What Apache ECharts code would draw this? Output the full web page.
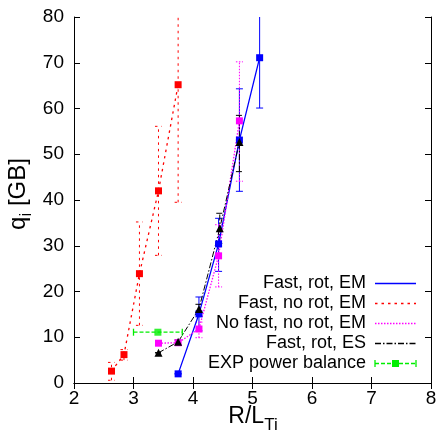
<!DOCTYPE html>
<html><head><meta charset="utf-8">
<script src="https://cdn.jsdelivr.net/npm/echarts@6/dist/echarts.min.js"></script>
<style>html,body{margin:0;padding:0;background:#fff}#c{width:444px;height:432px}</style>
</head><body><div id="c"></div>
<script>
// ---- data ----
const xTicks = [2, 3, 4, 5, 6, 7, 8];
const yTicks = [0, 10, 20, 30, 40, 50, 60, 70, 80];

const fastRotEM_x  = [3.75, 4.10, 4.43, 4.78, 5.12];
const fastRotEM_y  = [2.0, 15.1, 30.4, 53.1, 71.1];
const fastRotEM_lo = [2.0, 11.4, 24.4, 41.9, 60.1];
const fastRotEM_hi = [2.0, 18.8, 36.0, 64.3, 82.1];

const fastNoRotEM_x  = [2.63, 2.84, 3.10, 3.42, 3.75];
const fastNoRotEM_y  = [2.6, 6.2, 23.9, 42.0, 65.2];
const fastNoRotEM_lo = [0.6, 5.0, 12.6, 27.9, 39.5];
const fastNoRotEM_hi = [4.5, 7.3, 35.2, 56.1, 91.0];

const noFastNoRotEM_x  = [3.42, 3.75, 4.10, 4.43, 4.78];
const noFastNoRotEM_y  = [8.7, 8.8, 11.8, 27.8, 57.3];
const noFastNoRotEM_lo = [8.2, 8.2, 9.9, 21.0, 44.1];
const noFastNoRotEM_hi = [9.2, 9.4, 13.3, 34.6, 70.2];

const fastRotES_x  = [3.42, 3.75, 4.10, 4.45, 4.78];
const fastRotES_y  = [6.6, 9.0, 16.2, 33.8, 52.7];
const fastRotES_lo = [6.6, 8.6, 15.2, 30.5, 46.2];
const fastRotES_hi = [6.6, 9.4, 17.2, 37.1, 58.5];

const expPB_x   = [3.41];
const expPB_y   = [11.1];
const expPB_xlo = [3.00];
const expPB_xhi = [3.82];

const legendNames = ['Fast, rot, EM', 'Fast, no rot, EM', 'No fast, no rot, EM', 'Fast, rot, ES', 'EXP power balance'];

// ---- styles ----
const FONT = 'Liberation Sans, Arial, sans-serif';
const styles = [
  {color: '#0000ff', dash: null, symbol: 'rect', size: 7, width: 1.3},
  {color: '#ff0000', dash: [2.5, 4], symbol: 'rect', size: 7, width: 1.3},
  {color: '#ff00ff', dash: [1.5, 1.5], symbol: 'rect', size: 7, width: 1.3},
  {color: '#000000', dash: [6, 2, 1.5, 2], symbol: 'triangle', size: 8, width: 1},
  {color: '#00ee00', dash: [4, 2], symbol: 'rect', size: 7, width: 1.3}
];

function zip(a, b) { return a.map((v, i) => [v, b[i]]); }
function zip3(a, b, c) { return a.map((v, i) => [v, b[i], c[i]]); }

function yErr(st) {
  return function (params, api) {
    const x = api.value(0), lo = api.value(1), hi = api.value(2);
    const cs = params.coordSys;
    const top = cs.y, bot = cs.y + cs.height;
    const p1 = api.coord([x, lo]), p2 = api.coord([x, hi]);
    const ls = {stroke: st.color, lineWidth: 1, lineDash: st.dash || null};
    const ch = [];
    const ya = Math.min(p1[1], bot), yb = Math.max(p2[1], top);
    ch.push({type: 'line', shape: {x1: p1[0], y1: ya, x2: p1[0], y2: yb}, style: ls});
    const cw = 3.5;
    if (p1[1] <= bot) ch.push({type: 'line', shape: {x1: p1[0] - cw, y1: p1[1], x2: p1[0] + cw, y2: p1[1]}, style: ls});
    if (p2[1] >= top) ch.push({type: 'line', shape: {x1: p2[0] - cw, y1: p2[1], x2: p2[0] + cw, y2: p2[1]}, style: ls});
    return {type: 'group', children: ch};
  };
}
function xErr(st) {
  return function (params, api) {
    const lo = api.value(0), hi = api.value(1), y = api.value(2);
    const p1 = api.coord([lo, y]), p2 = api.coord([hi, y]);
    const ls = {stroke: st.color, lineWidth: 1.3, lineDash: st.dash};
    const cw = 3.5;
    return {type: 'group', children: [
      {type: 'line', shape: {x1: p1[0], y1: p1[1], x2: p2[0], y2: p2[1]}, style: ls},
      {type: 'line', shape: {x1: p1[0], y1: p1[1] - cw, x2: p1[0], y2: p1[1] + cw}, style: {stroke: st.color, lineWidth: 1.3}},
      {type: 'line', shape: {x1: p2[0], y1: p2[1] - cw, x2: p2[0], y2: p2[1] + cw}, style: {stroke: st.color, lineWidth: 1.3}}
    ]};
  };
}
function lineSeries(xs, ys, st) {
  return {type: 'line', data: zip(xs, ys), symbol: st.symbol, symbolSize: st.size, showSymbol: true,
    itemStyle: {color: st.color}, lineStyle: {color: st.color, width: st.width, type: st.dash || 'solid'},
    animation: false, clip: true, z: 3};
}
function errSeries(xs, lo, hi, st) {
  return {type: 'custom', data: zip3(xs, lo, hi), renderItem: yErr(st), encode: {x: 0, y: [1, 2]}, animation: false, clip: false, z: 2};
}

const series = [
  errSeries(fastRotEM_x, fastRotEM_lo, fastRotEM_hi, styles[0]),
  lineSeries(fastRotEM_x, fastRotEM_y, styles[0]),
  errSeries(fastNoRotEM_x, fastNoRotEM_lo, fastNoRotEM_hi, styles[1]),
  lineSeries(fastNoRotEM_x, fastNoRotEM_y, styles[1]),
  errSeries(noFastNoRotEM_x, noFastNoRotEM_lo, noFastNoRotEM_hi, styles[2]),
  lineSeries(noFastNoRotEM_x, noFastNoRotEM_y, styles[2]),
  errSeries(fastRotES_x, fastRotES_lo, fastRotES_hi, styles[3]),
  lineSeries(fastRotES_x, fastRotES_y, styles[3]),
  {type: 'custom', data: zip3(expPB_xlo, expPB_xhi, expPB_y), renderItem: xErr(styles[4]), encode: {x: [0, 1], y: 2}, animation: false, z: 2},
  {type: 'scatter', data: zip(expPB_x, expPB_y), symbol: 'rect', symbolSize: 7, itemStyle: {color: styles[4].color}, animation: false, z: 3}
];

// ---- text measuring ----
const mctx = document.createElement('canvas').getContext('2d');
function tw(t, size) { mctx.font = size + 'px ' + FONT; return mctx.measureText(t).width; }
function txt(x, baseline, s, fs, extra) {
  return Object.assign({type: 'text', x: x, y: baseline - 0.35 * fs,
    style: {text: s, font: fs + 'px ' + FONT, fill: '#000', align: 'left', verticalAlign: 'middle'}}, extra || {});
}

// titles
const xMain = 'R/L', xSub = 'Ti', xFs = 23, xSubFs = 17;
const xW = tw(xMain, xFs) + tw(xSub, xSubFs);
const xStart = 253 - xW / 2;
const yMain = 'q', ySub = 'i', yRest = ' [GB]', yFs = 24, ySubFs = 17;
const yW = tw(yMain, yFs) + tw(ySub, ySubFs) + tw(yRest, yFs);

const graphics = [
  {type: 'group', children: [
    txt(xStart, 425, xMain, xFs),
    txt(xStart + tw(xMain, xFs), 431, xSub, xSubFs)
  ]},
  {type: 'group', x: 27, y: 194 + yW / 2, rotation: Math.PI / 2, children: [
    txt(0, 0, yMain, yFs),
    txt(tw(yMain, yFs), 5, ySub, ySubFs),
    txt(tw(yMain, yFs) + tw(ySub, ySubFs), 0, yRest, yFs)
  ]}
];
// legend
const legY = [283.5, 303.5, 323.5, 343.5, 363.5];
legendNames.forEach((n, i) => {
  const st = styles[i];
  graphics.push({type: 'text', x: 366, y: legY[i], style: {text: n, font: '18px ' + FONT, fill: '#000', align: 'right', verticalAlign: 'middle'}});
  graphics.push({type: 'line', shape: {x1: 375, y1: legY[i], x2: 416, y2: legY[i]}, style: {stroke: st.color, lineWidth: 1.6, lineDash: st.dash}});
  if (i === 4) {
    graphics.push({type: 'line', shape: {x1: 375, y1: legY[i] - 3.5, x2: 375, y2: legY[i] + 3.5}, style: {stroke: st.color, lineWidth: 1.3}});
    graphics.push({type: 'line', shape: {x1: 416, y1: legY[i] - 3.5, x2: 416, y2: legY[i] + 3.5}, style: {stroke: st.color, lineWidth: 1.3}});
    graphics.push({type: 'rect', shape: {x: 392, y: legY[i] - 3.5, width: 7, height: 7}, style: {fill: st.color}});
  }
});

const axisCommon = {
  axisLine: {show: true, lineStyle: {color: '#000', width: 1}},
  axisTick: {show: true, inside: true, length: 6, lineStyle: {color: '#000'}},
  splitLine: {show: false}
};
const option = {
  animation: false,
  backgroundColor: '#fff',
  grid: {left: 74, right: 13, top: 17, bottom: 49, containLabel: false},
  xAxis: [
    Object.assign({type: 'value', min: xTicks[0], max: xTicks[xTicks.length - 1], interval: 1, position: 'bottom',
      axisLabel: {color: '#000', fontSize: 19, fontFamily: FONT, margin: 6}}, axisCommon),
    Object.assign({type: 'value', min: xTicks[0], max: xTicks[xTicks.length - 1], interval: 1, position: 'top',
      axisLabel: {show: false}}, axisCommon)
  ],
  yAxis: [
    Object.assign({type: 'value', min: yTicks[0], max: yTicks[yTicks.length - 1], interval: 10, position: 'left',
      axisLabel: {color: '#000', fontSize: 19, fontFamily: FONT, margin: 10}}, axisCommon),
    Object.assign({type: 'value', min: yTicks[0], max: yTicks[yTicks.length - 1], interval: 10, position: 'right',
      axisLabel: {show: false}}, axisCommon)
  ],
  series: series,
  graphic: graphics
};
const chart = echarts.init(document.getElementById('c'), null, {renderer: 'canvas'});
chart.setOption(option);
</script></body></html>
